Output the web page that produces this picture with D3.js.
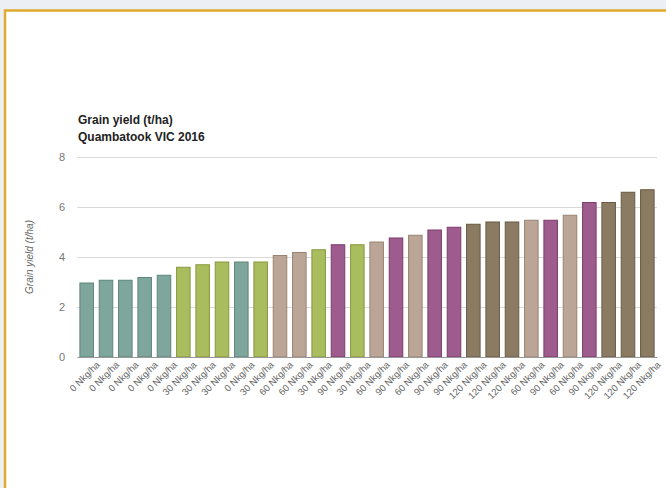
<!DOCTYPE html>
<html>
<head>
<meta charset="utf-8">
<script src="https://cdn.jsdelivr.net/npm/d3@7"></script>
<style>
  html, body { margin: 0; padding: 0; background: #eceff3; }
  svg { display: block; font-family: "Liberation Sans", Arial, sans-serif; }
</style>
</head>
<body>
<div id="chart"></div>
<script>
// bar order as in the chart, nitrogen rate for each bar
const rates = [0, 0, 0, 0, 0, 30, 30, 30, 0, 30, 60, 60, 30, 90, 30,
               60, 90, 60, 90, 90, 120, 120, 120, 60, 90, 60, 90, 120, 120, 120];
// grain yield t/ha
const yields = [2.96, 3.07, 3.07, 3.18, 3.27, 3.59, 3.69, 3.8, 3.8, 3.8, 4.06, 4.18, 4.29, 4.49, 4.49,
                4.6, 4.76, 4.87, 5.08, 5.19, 5.31, 5.4, 5.4, 5.47, 5.47, 5.67, 6.18, 6.18, 6.59, 6.69];
const yTicks = [0, 2, 4, 6, 8];
const rateKeys = [0, 30, 60, 90, 120];
const fills = ['#7fa69c', '#a9bc5e', '#bba596', '#9e5b8e', '#8b7b62'];
const strokes = ['#5d857b', '#86993d', '#9a8373', '#7b3d6b', '#675a42'];

const W = 666, H = 488;
const margin = { top: 157, right: 9, bottom: 131, left: 77 };

const svg = d3.select('#chart').append('svg')
  .attr('width', W)
  .attr('height', H);

// yellow frame
svg.append('rect')
  .attr('x', 5).attr('y', 10.5)
  .attr('width', W + 10).attr('height', H)
  .attr('fill', '#fff')
  .attr('stroke', '#e0aa2c')
  .attr('stroke-width', 2.5);

const width = W - margin.left - margin.right;
const height = H - margin.top - margin.bottom;
const g = svg.append('g').attr('transform', 'translate(' + margin.left + ',' + margin.top + ')');

const data = yields.map((v, i) => ({ idx: i, rate: rates[i], value: v }));

const x = d3.scaleBand()
  .domain(data.map(d => d.idx))
  .range([0, width])
  .paddingInner(0.3).paddingOuter(0.15);

const y = d3.scaleLinear().domain([0, 8]).range([height, 0]);

const color = d3.scaleOrdinal().domain(rateKeys).range(fills);
const edge = d3.scaleOrdinal().domain(rateKeys).range(strokes);

/* grid + y axis */
const yAxis = g.append('g')
  .call(d3.axisLeft(y).tickValues(yTicks).tickSize(-width).tickPadding(12));
yAxis.select('.domain').remove();
yAxis.selectAll('.tick line').attr('stroke', '#d9d9d9').attr('stroke-width', 1.2);
yAxis.selectAll('.tick text').attr('fill', '#777').style('font-size', '11px');

/* bars */
g.append('g').selectAll('rect')
  .data(data)
  .enter().append('rect')
  .attr('x', d => x(d.idx))
  .attr('y', d => y(d.value))
  .attr('width', x.bandwidth())
  .attr('height', d => height - y(d.value))
  .attr('fill', d => color(d.rate))
  .attr('stroke', d => edge(d.rate))
  .attr('stroke-width', 1);

/* x axis */
const xAxis = g.append('g')
  .attr('transform', 'translate(0,' + height + ')')
  .call(d3.axisBottom(x).tickSize(0).tickPadding(10).tickFormat(i => rates[i] + ' Nkg/ha'));
xAxis.select('.domain').attr('stroke', '#999');
xAxis.selectAll('.tick text')
  .attr('fill', '#666')
  .style('font-size', '9.5px')
  .style('text-anchor', 'end')
  .attr('dx', '0.4em')
  .attr('dy', '0.6em')
  .attr('transform', 'rotate(-45)');

/* titles */
svg.append('text')
  .attr('x', 78).attr('y', 124)
  .attr('font-size', '12px').attr('font-weight', 'bold').attr('fill', '#222')
  .text('Grain yield (t/ha)');
svg.append('text')
  .attr('x', 78).attr('y', 141)
  .attr('font-size', '12px').attr('font-weight', 'bold').attr('fill', '#222')
  .text('Quambatook VIC 2016');

// Y axis label
svg.append('text')
  .attr('transform', 'rotate(-90)')
  .attr('x', -(margin.top + height / 2))
  .attr('y', 33)
  .attr('font-size', '10px').attr('font-style', 'italic').attr('fill', '#666')
  .style('text-anchor', 'middle')
  .text('Grain yield (t/ha)');
</script>
</body>
</html>
